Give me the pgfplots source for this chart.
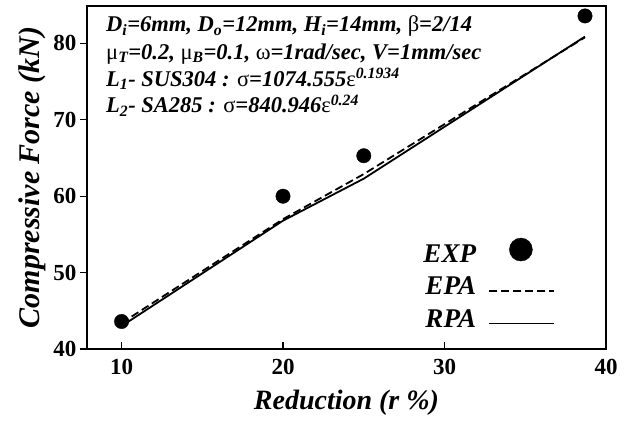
\documentclass[border=0pt]{standalone}
\usepackage{fontspec}
\setmainfont{Liberation Serif}
\usepackage{pgfplots}
\pgfplotsset{compat=1.18}
\pgfplotsset{lleg/.style={legend image code/.code={\path (0pt,0pt); \draw[##1] (12pt,0pt) -- (77pt,0pt);}}}
\newcommand{\g}[1]{\textnormal{#1}}
\begin{document}
\begin{tikzpicture}
\begin{axis}[
  scale only axis, width=519pt, height=343pt,
  xmin=7.86, xmax=40, ymin=40, ymax=84.9,
  xtick={10,20,30,40}, ytick={40,50,60,70,80},
  tick align=outside, major tick length=7pt,
  xtick pos=bottom, ytick pos=left,
  x tick style={yshift=7pt},
  axis line style={line width=1.6pt},
  tick style={line width=1.3pt, black},
  clip=false,
  /pgf/number format/assume math mode=true,
  ticklabel style={font=\fontsize{23}{23}\selectfont\bfseries},
  xlabel={Reduction (r \%)},
  ylabel={Compressive Force (kN)},
  xlabel style={font=\fontsize{28}{28}\selectfont\bfseries\itshape,
    at={(axis description cs:0.5,-0.157)}, anchor=center},
  ylabel style={font=\fontsize{30}{30}\selectfont\bfseries\itshape,
    at={(axis description cs:-0.106,0.5)}, anchor=center},
  legend style={at={(rel axis cs:1,0)}, anchor=south east, xshift=-51pt, yshift=9pt,
    draw=none, fill=none,
    font=\fontsize{27}{27}\selectfont\bfseries\itshape, legend plot pos=right,
    row sep=0pt, inner sep=0pt,
    nodes={inner xsep=0pt, inner ysep=0pt, text height=20pt, text depth=12.5pt}},
  legend cell align=right,
]
\addplot[only marks, mark=*, mark size=7.2pt, black,
  legend image code/.code={\path (0pt,0pt); \fill (44pt,9pt) circle (11.5pt);}]
  coordinates {(10,43.6) (20,60) (25,65.3) (38.7,83.6)};
\addlegendentry{EXP}
\addplot[black, line width=1.8pt, dash pattern=on 8pt off 4pt, lleg]
  coordinates {(10,43.4) (20,57.0) (25,62.9) (38.7,80.8)};
\addlegendentry{EPA}
\addplot[black, line width=1.8pt, lleg]
  coordinates {(10,43.0) (20,56.8) (25,62.3) (38.7,80.9)};
\addlegendentry{RPA}
\coordinate (bl) at (rel axis cs:0,0);
\coordinate (tr) at (rel axis cs:1,1);
\begin{scope}[font=\fontsize{22.5}{22.5}\selectfont\bfseries\itshape]
\node[anchor=base west, inner sep=0pt, xshift=19pt, yshift=-26pt] at (rel axis cs:0,1)
  {D\textsubscript{i}=6mm, D\textsubscript{o}=12mm, H\textsubscript{i}=14mm, \g{β}=2/14};
\node[anchor=base west, inner sep=0pt, xshift=19pt, yshift=-53.5pt] at (rel axis cs:0,1)
  {\g{μ}\textsubscript{T}=0.2, \g{μ}\textsubscript{B}=0.1, \g{ω}=1rad/sec, V=1mm/sec};
\node[anchor=base west, inner sep=0pt, xshift=19pt, yshift=-80.5pt] at (rel axis cs:0,1)
  {L\textsubscript{1}- SUS304 : \g{σ}=1074.555\g{ε}\textsuperscript{0.1934}};
\node[anchor=base west, inner sep=0pt, xshift=19pt, yshift=-107pt] at (rel axis cs:0,1)
  {L\textsubscript{2}- SA285 : \g{σ}=840.946\g{ε}\textsuperscript{0.24}};
\end{scope}
\end{axis}
\path ([shift={(-87pt,-74pt)}]bl) rectangle ([shift={(26pt,6pt)}]tr);
\end{tikzpicture}
\end{document}
